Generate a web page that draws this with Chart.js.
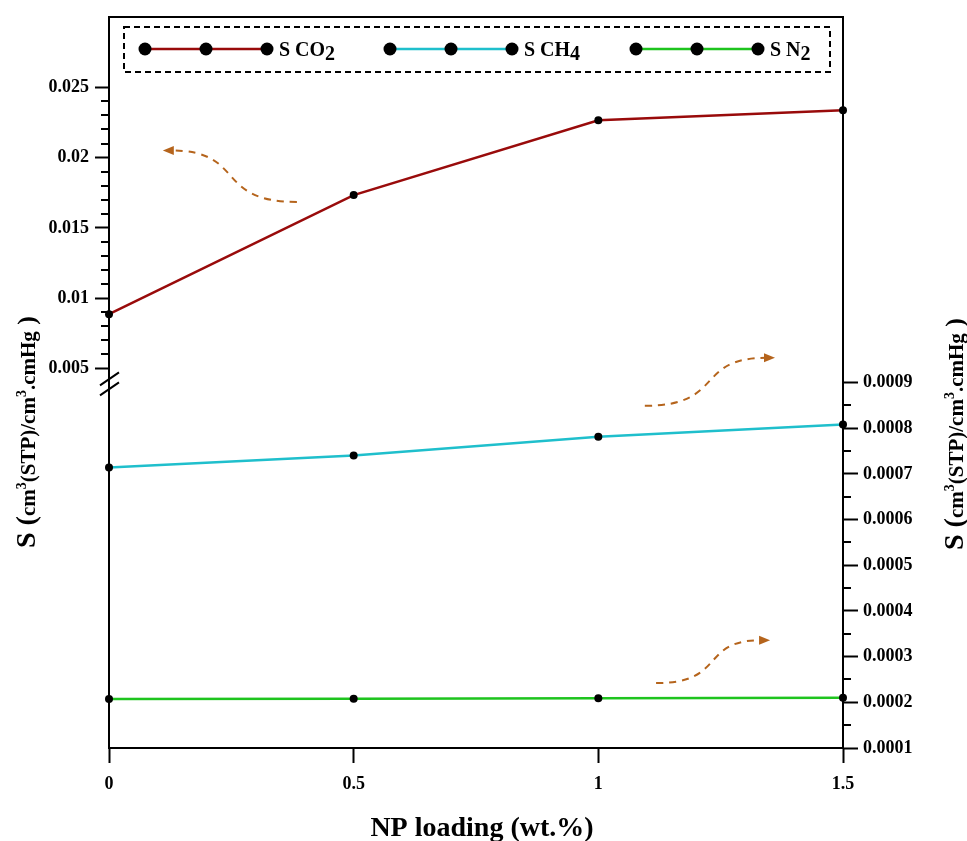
<!DOCTYPE html>
<html>
<head>
<meta charset="utf-8">
<script src="https://cdn.jsdelivr.net/npm/chart.js@4.4.1/dist/chart.umd.min.js"></script>
<style>
  html, body { margin: 0; padding: 0; background: #fff; }
  #wrap { width: 967px; height: 841px; }
</style>
</head>
<body>
<div id="wrap"><canvas id="chart" width="967" height="841"></canvas></div>
<script>
/* ---- data ---- */
const loading = [0, 0.5, 1, 1.5];
const sCO2 = [0.00886, 0.01733, 0.02266, 0.02337];
const sCH4 = [0.000714, 0.000740, 0.000781, 0.000808];
const sN2 = [0.000207, 0.000208, 0.000209, 0.000210];
const seriesLabels = ['S CO2', 'S CH4', 'S N2'];
const seriesColors = ['#990b0b', '#1fbfcc', '#1ec41e'];

const xTicks = [0, 0.5, 1, 1.5];
const leftTicks = [0.005, 0.01, 0.015, 0.02, 0.025];
const rightTicks = [0.0001, 0.0002, 0.0003, 0.0004, 0.0005, 0.0006, 0.0007, 0.0008, 0.0009];
const leftMinor = [0.006, 0.007, 0.008, 0.009, 0.011, 0.012, 0.013, 0.014, 0.016, 0.017, 0.018, 0.019, 0.021, 0.022, 0.023, 0.024];
const rightMinor = [0.00015, 0.00025, 0.00035, 0.00045, 0.00055, 0.00065, 0.00075, 0.00085];

const xTitle = 'NP loading (wt.%)';

// dashed arrows: [scale id, tail x, tail y, head x, head y]
const arrows = [
  ['y', 0.384, 0.01684, 0.110, 0.0205],
  ['y2', 1.095, 0.000849, 1.361, 0.000954],
  ['y2', 1.118, 0.000242, 1.351, 0.000336]
];

const SERIF = "'Liberation Serif', 'Times New Roman', serif";
const tickFont = { family: SERIF, size: 18, weight: 'bold' };

const toXY = (ys) => loading.map((x, i) => ({ x, y: ys[i] }));

function lineSet(label, ys, color, axis) {
  return {
    label,
    data: toXY(ys),
    yAxisID: axis,
    borderColor: color,
    backgroundColor: '#000',
    borderWidth: 2.5,
    pointRadius: 4,
    pointBackgroundColor: '#000',
    pointBorderColor: '#000',
    pointBorderWidth: 0,
    tension: 0,
    clip: false
  };
}

// rich text helper: segments drawn along a baseline
function drawRich(ctx, segs, cx, cy) {
  let total = 0;
  segs.forEach(s => {
    ctx.font = `bold ${s.size}px ${SERIF}`;
    s.w = ctx.measureText(s.t).width;
    total += s.w;
  });
  let x = cx - total / 2;
  ctx.textBaseline = 'alphabetic';
  ctx.textAlign = 'left';
  segs.forEach(s => {
    ctx.font = `bold ${s.size}px ${SERIF}`;
    ctx.fillText(s.t, x, cy + (s.dy || 0));
    x += s.w;
  });
}

const yTitleSegs = () => [
  { t: 'S', size: 28 },
  { t: ' (', size: 28 },
  { t: 'cm', size: 21 },
  { t: '3', size: 14, dy: -9 },
  { t: '(STP)/cm', size: 21 },
  { t: '3', size: 14, dy: -9 },
  { t: '.cmHg', size: 21 },
  { t: ' )', size: 26 }
];

const decor = {
  id: 'decor',
  afterDraw(chart) {
    const { ctx, chartArea: a, scales } = chart;
    const xs = scales.x, yl = scales.y, yr = scales.y2;
    ctx.save();

    // top frame line
    ctx.strokeStyle = '#000';
    ctx.lineWidth = 2;
    ctx.beginPath();
    ctx.moveTo(a.left - 1, a.top);
    ctx.lineTo(a.right + 1, a.top);
    ctx.stroke();

    // minor ticks
    leftMinor.forEach(v => {
      const p = Math.round(yl.getPixelForValue(v));
      ctx.beginPath(); ctx.moveTo(a.left, p); ctx.lineTo(a.left - 8, p); ctx.stroke();
    });
    rightMinor.forEach(v => {
      const p = Math.round(yr.getPixelForValue(v));
      ctx.beginPath(); ctx.moveTo(a.right, p); ctx.lineTo(a.right + 8, p); ctx.stroke();
    });

    // axis break marks on the left axis
    const b = yl.getPixelForValue(0.005) + 16;
    [-5, 5].forEach(d => {
      ctx.beginPath();
      ctx.moveTo(a.left - 9, b + d + 6);
      ctx.lineTo(a.left + 10, b + d - 7);
      ctx.stroke();
    });

    // dashed arrows
    const brown = '#b5641c';
    arrows.forEach(([id, x0, y0, x1, y1]) => {
      const ys = scales[id];
      const p0 = { x: xs.getPixelForValue(x0), y: ys.getPixelForValue(y0) };
      const p1 = { x: xs.getPixelForValue(x1), y: ys.getPixelForValue(y1) };
      const dx = p1.x - p0.x;
      const c1 = { x: p0.x + dx * 0.62, y: p0.y };
      const c2 = { x: p0.x + dx * 0.38, y: p1.y };
      const dir = Math.sign(dx);
      const end = { x: p1.x - dir * 9, y: p1.y };
      ctx.strokeStyle = brown;
      ctx.lineWidth = 2;
      ctx.setLineDash([7, 6]);
      ctx.beginPath();
      ctx.moveTo(p0.x, p0.y);
      ctx.bezierCurveTo(c1.x, c1.y, c2.x, c2.y, end.x, end.y);
      ctx.stroke();
      ctx.setLineDash([]);
      ctx.fillStyle = brown;
      ctx.beginPath();
      ctx.moveTo(p1.x, p1.y);
      ctx.lineTo(end.x - dir * 2, end.y - 4.5);
      ctx.lineTo(end.x - dir * 2, end.y + 4.5);
      ctx.closePath();
      ctx.fill();
    });

    // legend box
    ctx.strokeStyle = '#000';
    ctx.lineWidth = 2;
    ctx.setLineDash([6, 4]);
    ctx.strokeRect(124, 27, 706, 45);
    ctx.setLineDash([]);
    const starts = [145, 390, 636];
    chart.data.datasets.forEach((ds, i) => {
      const x0 = starts[i], yy = 49;
      ctx.strokeStyle = ds.borderColor;
      ctx.lineWidth = 2.5;
      ctx.beginPath(); ctx.moveTo(x0, yy); ctx.lineTo(x0 + 122, yy); ctx.stroke();
      ctx.fillStyle = '#000';
      [0, 61, 122].forEach(o => {
        ctx.beginPath(); ctx.arc(x0 + o, yy, 6.5, 0, Math.PI * 2); ctx.fill();
      });
      const lab = seriesLabels[i];
      const main = lab.slice(0, -1), sub = lab.slice(-1);
      ctx.font = `bold 20px ${SERIF}`;
      ctx.textAlign = 'left';
      ctx.textBaseline = 'alphabetic';
      ctx.fillText(main, x0 + 134, yy + 7);
      const w = ctx.measureText(main).width;
      ctx.font = `bold 20px ${SERIF}`;
      ctx.fillText(sub, x0 + 134 + w, yy + 11);
    });

    // axis titles
    ctx.fillStyle = '#000';
    ctx.font = `bold 28px ${SERIF}`;
    ctx.textAlign = 'center';
    ctx.textBaseline = 'middle';
    ctx.fillText(xTitle, 482, 829);

    ctx.save();
    ctx.translate(35, 432);
    ctx.rotate(-Math.PI / 2);
    drawRich(ctx, yTitleSegs(), 0, 0);
    ctx.restore();

    ctx.save();
    ctx.translate(963, 434);
    ctx.rotate(-Math.PI / 2);
    drawRich(ctx, yTitleSegs(), 0, 0);
    ctx.restore();

    ctx.restore();
  }
};

const axisCommon = (tickLen, pad) => ({
  grid: { drawOnChartArea: false, drawTicks: true, tickLength: tickLen, tickWidth: 2, tickColor: '#000', color: '#000' },
  border: { display: true, color: '#000', width: 2 },
  ticks: { font: tickFont, color: '#000', padding: pad, autoSkip: false, maxRotation: 0, callback: (v) => String(v) }
});

new Chart(document.getElementById('chart'), {
  type: 'line',
  data: {
    datasets: [
      lineSet(seriesLabels[0], sCO2, seriesColors[0], 'y'),
      lineSet(seriesLabels[1], sCH4, seriesColors[1], 'y2'),
      lineSet(seriesLabels[2], sN2, seriesColors[2], 'y2')
    ]
  },
  options: {
    responsive: false,
    animation: false,
    layout: { padding: { top: 17, left: 0, right: 0, bottom: 0 } },
    plugins: { legend: { display: false }, tooltip: { enabled: false } },
    scales: {
      x: {
        type: 'linear', min: 0, max: 1.5,
        ...axisCommon(15, 11),
        afterBuildTicks: (s) => { s.ticks = xTicks.map(v => ({ value: v })); },
        afterFit: (s) => { s.height = 93; }
      },
      y: {
        type: 'linear', position: 'left', min: -0.022, max: 0.030,
        ...axisCommon(14, 6),
        afterBuildTicks: (s) => { s.ticks = leftTicks.map(v => ({ value: v })); },
        afterFit: (s) => { s.width = 109; }
      },
      y2: {
        type: 'linear', position: 'right', min: 0.0001, max: 0.0017,
        ...axisCommon(15, 5),
        afterBuildTicks: (s) => { s.ticks = rightTicks.map(v => ({ value: v })); },
        afterFit: (s) => { s.width = 124; }
      }
    }
  },
  plugins: [decor]
});
</script>
</body>
</html>
